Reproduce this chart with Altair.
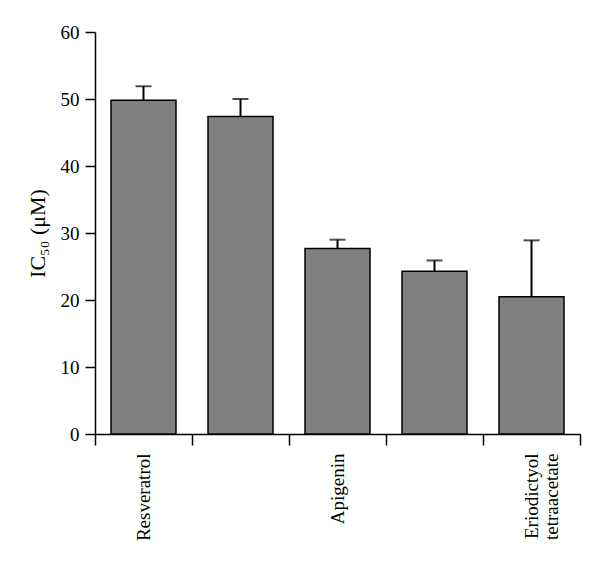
import altair as alt
import pandas as pd

keys = ["c1", "c2", "c3", "c4", "c5"]
labels = ["Resveratrol", "", "Apigenin", "", "Eriodictyol\ntetraacetate"]
means = [49.8, 47.4, 27.7, 24.3, 20.5]
errors = [2.1, 2.6, 1.3, 1.6, 8.4]

df = pd.DataFrame({"key": keys, "label": labels, "mean": means, "err": errors})
df["top"] = df["mean"] + df["err"]

label_map = "{" + ",".join(f"'{k}': {repr(l.split(chr(10)))}" for k, l in zip(keys, labels)) + "}"

FONT = "Liberation Serif"

x = alt.X("key:N", sort=keys, title=None,
          scale=alt.Scale(paddingInner=0, paddingOuter=0),
          axis=alt.Axis(labelExpr=f"{label_map}[datum.value]", labelAngle=270,
                        tickBand="extent", tickSize=11, labelPadding=8,
                        domainColor="black", tickColor="black", domainWidth=1.5,
                        tickWidth=1.5, labelColor="black", labelFont=FONT,
                        labelFontSize=19, labelLineHeight=20))

y_scale = alt.Scale(domain=[0, 60], nice=False)

bars = alt.Chart(df).mark_bar(color="#808080", stroke="black", strokeWidth=1.5,
                              width=alt.RelativeBandSize(0.67)).encode(
    x=x,
    y=alt.Y("mean:Q", scale=y_scale, title="IC₅₀ (μM)",
            axis=alt.Axis(values=[0, 10, 20, 30, 40, 50, 60], grid=False,
                          tickSize=10, labelPadding=6, titlePadding=11,
                          domainColor="black", tickColor="black", domainWidth=1.5,
                          tickWidth=1.5, labelColor="black", labelFont=FONT,
                          labelFontSize=19, titleFont=FONT, titleFontSize=22,
                          titleFontWeight="normal", titleColor="black")),
)

rules = alt.Chart(df).mark_rule(color="black", strokeWidth=2).encode(
    x=alt.X("key:N", sort=keys),
    y=alt.Y("mean:Q", scale=y_scale),
    y2="top:Q",
)

caps = alt.Chart(df).mark_tick(color="black", size=16, thickness=2, orient="horizontal").encode(
    x=alt.X("key:N", sort=keys),
    y=alt.Y("top:Q", scale=y_scale),
)

chart = alt.layer(bars, rules, caps).properties(
    width=485, height=402,
    autosize=alt.AutoSizeParams(type="none"),
    padding={"left": 87, "top": 24, "right": 5, "bottom": 122},
).configure_view(stroke=None)

chart.save("out.html", embed_options={"renderer": "svg", "actions": False})
